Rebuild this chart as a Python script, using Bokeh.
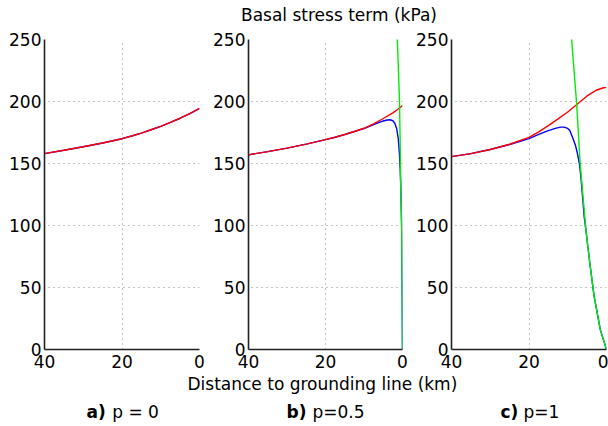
from bokeh.plotting import figure
from bokeh.layouts import column, row
from bokeh.models import Range1d, FixedTicker
from bokeh.core.properties import value
from bokeh.embed import file_html
from bokeh.resources import INLINE

FONT = "DejaVu Sans"

# ---- data: distance to grounding line (km) vs basal stress term (kPa) ----
# a) p = 0 (both terms coincide)
dist_a = [40, 35, 30, 25, 20, 17.5, 15, 12.5, 10, 7.5, 5, 2.5, 0]
red_a = [158, 160.7, 163.5, 166.5, 170, 172.2, 174.5, 177.2, 180, 183.2, 186.5, 190.3, 194.5]
blue_a = [158, 160.7, 163.5, 166.5, 170, 172.2, 174.5, 177.2, 180, 183.2, 186.5, 190.3, 194.5]

# b) p = 0.5
dist_red_b = [40, 35, 30, 25, 20, 17.5, 15, 12.5, 10, 7.5, 5, 2.5, 1.2, 0]
red_b = [157, 159.6, 162.4, 165.6, 169.2, 171.2, 173.4, 175.8, 178.4, 182.0, 186.3, 190.8, 193.8, 196.8]
dist_blue_b = [40, 35, 30, 25, 20, 17.5, 15, 12.5, 10, 7.5, 5, 4, 3.2, 2.5, 2.0, 1.5,
               1.1, 0.8, 0.6, 0.45, 0.3, 0.2, 0.08, 0]
blue_b = [157, 159.6, 162.4, 165.6, 169.2, 171.2, 173.4, 175.8, 178.2, 181.3, 184.3, 185.1,
          185.3, 184.5, 182.5, 178, 170, 158, 145, 131, 110, 96, 43, 0]
dist_green_b = [1.45, 1.35, 1.05, 0.78, 0.6, 0.45, 0.3, 0.2, 0.08, 0]
green_b = [262, 250, 225, 200, 165, 131, 110, 96, 43, 0]

# c) p = 1
dist_red_c = [40, 35, 30, 25, 20, 17.5, 15, 12.5, 10, 7.5, 5, 2.5, 1, 0]
red_c = [155.5, 158, 161.3, 165.5, 171, 175.5, 180.5, 186, 191.5, 198, 204.5, 209.3, 210.9, 211.4]
dist_blue_c = [40, 35, 30, 25, 20, 17.5, 15, 13, 11.8, 11, 10, 9.5, 8.75, 8, 7.5, 7, 6.6,
               6.2, 5.75, 5.3, 4.3, 3.2, 1.6, 0]
blue_c = [155.5, 158, 161.3, 165.3, 170, 173.5, 176.5, 178.5, 179.3, 179.3, 178.3, 176.8,
          171, 164.5, 158, 150, 139, 124, 107, 96, 69.5, 43, 16, 0]
dist_green_c = [9.3, 9.0, 7.7, 6.8, 5.3, 4.3, 3.2, 1.6, 0]
green_c = [262, 250, 198, 150, 96, 69.5, 43, 16, 0]

x_ticks = [0, 20, 40]
y_ticks = [0, 50, 100, 150, 200, 250]

title_text = "Basal stress term (kPa)"
xlabel_text = "Distance to grounding line (km)"
panel_tags = ["a)", "b)", "c)"]
panel_names = ["p = 0", "p=0.5", "p=1"]

RED, BLUE, GREEN = "#ff0000", "#0000ff", "#00ee00"


def panel(left, frame_w, right, series):
    p = figure(width=left + frame_w + right, height=11 + 310 + 26,
               x_range=Range1d(40, 0), y_range=Range1d(0, 250),
               output_backend="svg", toolbar_location=None,
               min_border_left=left, min_border_right=right,
               min_border_top=11, min_border_bottom=26)
    p.outline_line_color = None
    p.background_fill_color = "white"
    p.xaxis.ticker = FixedTicker(ticks=x_ticks)
    p.yaxis.ticker = FixedTicker(ticks=y_ticks)
    p.xgrid.ticker = FixedTicker(ticks=x_ticks)
    p.ygrid.ticker = FixedTicker(ticks=y_ticks)
    for ax in (p.xaxis, p.yaxis):
        ax.major_label_text_font = FONT
        ax.major_label_text_font_size = "17px"
        ax.major_label_text_color = "black"
        ax.axis_line_color = "#222222"
        ax.axis_line_width = 1.6
        ax.major_tick_out = 0
        ax.major_tick_in = 0
        ax.minor_tick_out = 0
        ax.minor_tick_in = 0
    p.yaxis.major_label_standoff = 3
    p.xaxis.major_label_standoff = 5
    for g in (p.xgrid, p.ygrid):
        g.grid_line_color = "#8a8a8a"
        g.grid_line_dash = "1 4"
        g.grid_line_width = 1
    for xs, ys, col in series:
        p.line(xs, ys, line_color=col, line_width=1.4)
    return p


pa = panel(44, 155, 8, [(dist_a, blue_a, BLUE), (dist_a, red_a, RED)])
pb = panel(41, 154, 8, [(dist_blue_b, blue_b, BLUE), (dist_red_b, red_b, RED),
                        (dist_green_b, green_b, GREEN)])
pc = panel(41, 155, 2, [(dist_blue_c, blue_c, BLUE), (dist_red_c, red_c, RED),
                        (dist_green_c, green_c, GREEN)])


def text_strip(h):
    s = figure(width=608, height=h, x_range=Range1d(0, 608), y_range=Range1d(h, 0),
               output_backend="svg", toolbar_location=None,
               x_axis_type=None, y_axis_type=None, min_border=0)
    s.outline_line_color = None
    s.xgrid.visible = False
    s.ygrid.visible = False
    return s


top = text_strip(28)
top.text(x=[240.5], y=[14.5], text=[title_text], text_align="left",
         text_baseline="middle", text_font=value(FONT),
         text_font_size="17px", text_color="black")

bottom = text_strip(51)
bottom.text(x=[187], y=[8.5], text=[xlabel_text], text_align="left",
            text_baseline="middle", text_font=value(FONT),
            text_font_size="17px", text_color="black")
bottom.text(x=[86, 286, 500], y=[36.5] * 3, text=panel_tags, text_align="left",
            text_baseline="middle", text_font=value(FONT),
            text_font_size="17px", text_font_style="bold", text_color="black")
bottom.text(x=[111.7, 312, 523], y=[36.5] * 3, text=panel_names, text_align="left",
            text_baseline="middle", text_font=value(FONT),
            text_font_size="17px", text_color="black")

layout = column(top, row(pa, pb, pc, spacing=0), bottom, spacing=0)

open("out.html", "w").write(file_html(layout, INLINE))
